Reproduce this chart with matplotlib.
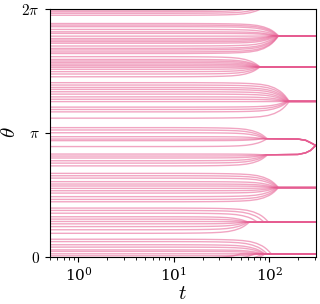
import matplotlib

matplotlib.use("Agg")
import matplotlib.pyplot as plt
import numpy as np

plt.rcParams["mathtext.fontset"] = "cm"
plt.rcParams["font.family"] = "serif"
plt.rcParams["font.serif"] = ["DejaVu Serif"]
plt.rcParams["axes.formatter.use_mathtext"] = True

TWO_PI = 2 * np.pi
T_END = 310

# shared closing profile: fraction of the initial offset still left at t = u * t_merge
PROFILE_U = [0.02, 0.1, 0.2, 0.3, 0.4, 0.5, 0.6, 0.7, 0.8, 0.85, 0.9, 0.95, 0.975, 1.0]
PROFILE_S = [1.0, 1.0, 0.99, 0.975, 0.95, 0.91, 0.84, 0.72, 0.55, 0.44, 0.31, 0.16, 0.08, 0.0]

# initial angles, cluster target and merge time
A_THETA0 = [5.91, 5.87, 5.83, 5.76, 5.70, 5.66, 5.59, 5.53, 5.49, 5.45, 5.41, 5.34, 5.28, 5.24, 5.19, 5.15]
A_TMERGE = [125, 123, 120, 118, 115, 112, 110, 110, 112, 115, 118, 120, 122, 124, 125, 125]
A_TARGET = 5.60

B_THETA0 = [5.07, 5.00, 4.96, 4.92, 4.88, 4.84, 4.80, 4.75, 4.69, 4.63, 4.56]
B_TMERGE = [80, 79, 78, 76, 74, 72, 72, 74, 76, 79, 80]
B_TARGET = 4.81

C_THETA0 = [4.41, 4.35, 4.29, 4.24, 4.18, 4.12, 4.05, 3.99, 3.93, 3.79, 3.73, 3.67, 3.51]
C_TMERGE = [162, 160, 158, 155, 152, 150, 148, 146, 145, 150, 155, 158, 162]
C_TARGET = 3.935

D1_THETA0 = [3.27, 3.21, 3.14, 3.04, 2.98, 2.94, 2.79]
D1_TMERGE = [95, 92, 90, 86, 85, 86, 95]
D1_TARGET = 2.99
D1_PATH_T = [200, 240, 270, 290, 305, 310]
D1_PATH_THETA = [2.98, 2.95, 2.89, 2.85, 2.817, 2.817]

D2_THETA0 = [2.60, 2.55, 2.50, 2.43, 2.37, 2.30]
D2_TMERGE = [88, 88, 90, 92, 94, 96]
D2_TARGET = 2.58
D2_PATH_T = [200, 240, 270, 290, 305, 310]
D2_PATH_THETA = [2.59, 2.63, 2.69, 2.76, 2.817, 2.817]

E_THETA0 = [2.11, 2.05, 1.99, 1.90, 1.84, 1.79, 1.73, 1.67, 1.61, 1.52, 1.45, 1.39]
E_TMERGE = [125, 123, 120, 118, 115, 112, 112, 115, 118, 120, 123, 125]
E_TARGET = 1.75

F_THETA0 = [1.23, 1.17, 1.10, 1.01, 0.95, 0.89, 0.83, 0.76, 0.68, 0.59]
F_TMERGE = [98, 88, 75, 60, 58, 55, 55, 58, 60, 62]
F_TARGET = 0.875

G_THETA0 = [0.44, 0.38, 0.30, 0.24, 0.17, 0.13, 0.07, 0.02]
G_TMERGE = [105, 95, 90, 88, 85, 80, 80, 80]
G_TARGET = 0.068

# lines near 2*pi that join the theta ~ 0 cluster across the wrap
TOP_THETA0 = [6.25, 6.21, 6.17, 6.12]
TOP_TMERGE = [50, 70, 85, 90]
TOP_TARGET = 6.351

LINE_COLOR = "#E65C91"


def trajectory(theta0, target, t_merge, path_t=None, path_theta=None):
    t = [0.5] + [u * t_merge for u in PROFILE_U]
    th = [theta0] + [target + (theta0 - target) * s for s in PROFILE_S]
    if path_t is None:
        t.append(T_END)
        th.append(target)
    else:
        t += path_t
        th += path_theta
    return np.array(t), np.array(th)


groups = [
    (A_THETA0, A_TMERGE, A_TARGET, None, None),
    (B_THETA0, B_TMERGE, B_TARGET, None, None),
    (C_THETA0, C_TMERGE, C_TARGET, None, None),
    (D1_THETA0, D1_TMERGE, D1_TARGET, D1_PATH_T, D1_PATH_THETA),
    (D2_THETA0, D2_TMERGE, D2_TARGET, D2_PATH_T, D2_PATH_THETA),
    (E_THETA0, E_TMERGE, E_TARGET, None, None),
    (F_THETA0, F_TMERGE, F_TARGET, None, None),
    (G_THETA0, G_TMERGE, G_TARGET, None, None),
]

fig = plt.figure(figsize=(3.2, 3.04), dpi=100)
ax = fig.add_axes([0.155, 0.156, 0.833, 0.815])

for theta0s, tms, target, pt, pth in groups:
    for th0, tm in zip(theta0s, tms):
        t, th = trajectory(th0, target, tm, pt, pth)
        ax.plot(t, th, color=LINE_COLOR, alpha=0.55, linewidth=1.0)

for th0, tm in zip(TOP_THETA0, TOP_TMERGE):
    t, th = trajectory(th0, TOP_TARGET, tm)
    ax.plot(t, th, color=LINE_COLOR, alpha=0.55, linewidth=1.0)
    ax.plot(t, th - TWO_PI, color=LINE_COLOR, alpha=0.55, linewidth=1.0)

ax.set_xscale("log")
ax.set_xlim(0.5, T_END)
ax.set_ylim(0, TWO_PI)
ax.set_yticks([0, np.pi, TWO_PI])
ax.set_yticklabels([r"$0$", r"$\pi$", r"$2\pi$"])
ax.tick_params(labelsize=11)
ax.set_xlabel(r"$t$", fontsize=15, labelpad=0)
ax.set_ylabel(r"$\theta$", fontsize=15, labelpad=2)

fig.savefig("out.png", dpi=100)
